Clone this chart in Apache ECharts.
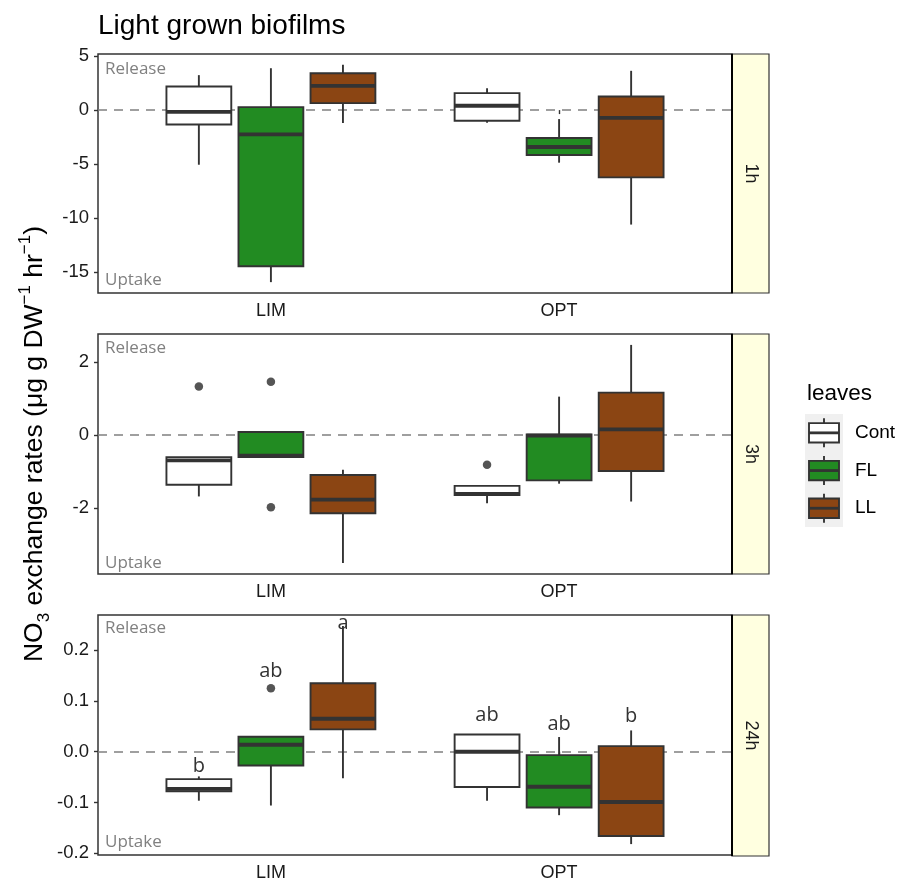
<!DOCTYPE html>
<html><head><meta charset="utf-8">
<script src="https://cdn.jsdelivr.net/npm/echarts@6.0.0/dist/echarts.min.js"></script>
<style>html,body{margin:0;padding:0;background:#fff}#c{width:911px;height:882px}</style>
</head><body><div id="c"></div>
<script>
// ---------------- data ----------------
const categories = ['LIM', 'OPT'];
const leaves = ['Cont', 'FL', 'LL'];
const panels = ['1h', '3h', '24h'];
// boxes ordered LIM-Cont, LIM-FL, LIM-LL, OPT-Cont, OPT-FL, OPT-LL
// each: [whiskerLow, q1, median, q3, whiskerHigh]
const box1h = [
  [-5.05, -1.33, -0.16, 2.18, 3.23],
  [-15.9, -14.43, -2.25, 0.27, 3.87],
  [-1.2, 0.64, 2.24, 3.41, 4.18],
  [-1.17, -0.99, 0.40, 1.57, 2.03],
  [-4.86, -4.15, -3.41, -2.58, -0.83],
  [-10.58, -6.22, -0.71, 1.25, 3.63]
];
const box3h = [
  [-1.68, -1.36, -0.69, -0.60, -0.60],
  [-0.60, -0.60, -0.56, 0.09, 0.09],
  [-3.51, -2.14, -1.77, -1.09, -0.95],
  [-1.87, -1.64, -1.61, -1.39, -1.39],
  [-1.33, -1.24, -0.01, 0.02, 1.06],
  [-1.82, -0.98, 0.16, 1.17, 2.48]
];
const box24h = [
  [-0.0965, -0.078, -0.073, -0.054, -0.0486],
  [-0.106, -0.027, 0.0138, 0.0295, 0.0295],
  [-0.052, 0.044, 0.065, 0.135, 0.248],
  [-0.0965, -0.0695, 0.0, 0.034, 0.034],
  [-0.125, -0.11, -0.069, -0.0066, 0.029],
  [-0.182, -0.166, -0.099, 0.011, 0.042]
];
// outliers: [categoryIndex, leafIndex, value]
const out1h = [];
const out3h = [[0, 0, 1.34], [0, 1, 1.47], [0, 1, -1.98], [1, 0, -0.81]];
const out24h = [[0, 1, 0.125]];
// significance letters (24h panel), same order as boxes
const letters24h = ['b', 'ab', 'a', 'ab', 'ab', 'b'];
const letterY24h = [-0.028, 0.159, 0.254, 0.072, 0.054, 0.069];
const yTicks1h = [-15, -10, -5, 0, 5];
const yTicks3h = [-2, 0, 2];
const yTicks24h = [-0.2, -0.1, 0.0, 0.1, 0.2];

// ---------------- layout / style ----------------
const fills = ['#FFFFFF', '#228B22', '#8B4513'];
const INK = '#333333';
const GL = 98, GW = 634, STRIPW = 37;
const grids = [{top: 54, height: 239}, {top: 334, height: 240}, {top: 615, height: 241}];
const xMin = 0.4, xMax = 2.6, dodge = 0.25, boxW = 0.225;
const boxSets = [box1h, box3h, box24h];
const outSets = [out1h, out3h, out24h];
const tickSets = [yTicks1h, yTicks3h, yTicks24h];
const decimals = [0, 0, 1];
const relOff = [[15.5, 13.3], [14.1, 11], [13.4, 14]];
const LW = 1.9, MLW = 3.8;

function xPos(ci, li) { return ci + 1 + (li - 1) * dodge; }

function boxRender(params, api) {
  const x = api.value(0), lo = api.value(1), q1 = api.value(2), md = api.value(3),
        q3 = api.value(4), hi = api.value(5), li = api.value(6);
  const c = v => api.coord([x, v]);
  const half = api.size([boxW, 0])[0] / 2;
  const cx = c(md)[0];
  const yLo = c(lo)[1], yQ1 = c(q1)[1], yMd = c(md)[1], yQ3 = c(q3)[1], yHi = c(hi)[1];
  return {type: 'group', children: [
    {type: 'line', shape: {x1: cx, y1: yHi, x2: cx, y2: yQ3}, style: {stroke: INK, lineWidth: LW}},
    {type: 'line', shape: {x1: cx, y1: yQ1, x2: cx, y2: yLo}, style: {stroke: INK, lineWidth: LW}},
    {type: 'rect', shape: {x: cx - half, y: yQ3, width: 2 * half, height: yQ1 - yQ3},
      style: {fill: fills[li], stroke: INK, lineWidth: LW}},
    {type: 'line', shape: {x1: cx - half, y1: yMd, x2: cx + half, y2: yMd}, style: {stroke: INK, lineWidth: MLW}}
  ]};
}
function letterRender(params, api) {
  const p = api.coord([api.value(0), api.value(1)]);
  return {type: 'text', x: p[0], y: p[1], style: {text: letters24h[params.dataIndex],
    fontFamily: 'Open Sans', fontSize: 20, fill: '#333', align: 'center', verticalAlign: 'middle'}};
}

const gridOpt = [], xAxes = [], yAxes = [], series = [], graphics = [];
panels.forEach((pn, i) => {
  const g = grids[i];
  gridOpt.push({left: GL, top: g.top, width: GW, height: g.height, show: true,
    borderColor: INK, borderWidth: 1.5, backgroundColor: '#fff'});
  const boxes = boxSets[i], outs = outSets[i];
  let vals = [];
  boxes.forEach(b => vals.push(b[0], b[4]));
  outs.forEach(o => vals.push(o[2]));
  const dmin = Math.min(...vals), dmax = Math.max(...vals), r = dmax - dmin;
  xAxes.push({type: 'value', gridIndex: i, min: xMin, max: xMax,
    splitLine: {show: false}, axisLine: {show: false},
    axisTick: {show: true, customValues: [1, 2], length: 4, lineStyle: {color: INK, width: 1.4}},
    axisLabel: {show: true, customValues: [1, 2], margin: 9, fontSize: 18, fontFamily: 'Liberation Sans',
      color: '#1a1a1a', formatter: v => categories[Math.round(v) - 1] || ''}});
  yAxes.push({type: 'value', gridIndex: i, min: dmin - 0.05 * r, max: dmax + 0.05 * r,
    splitLine: {show: false}, axisLine: {show: false},
    axisTick: {show: true, customValues: tickSets[i], length: 4, lineStyle: {color: INK, width: 1.4}},
    axisLabel: {show: true, customValues: tickSets[i], margin: 9, fontSize: 18.5, fontFamily: 'Liberation Sans',
      color: '#1a1a1a', formatter: v => Number(v).toFixed(decimals[i])}});
  const data = boxes.map((b, k) => {
    const ci = Math.floor(k / 3), li = k % 3;
    return [xPos(ci, li), b[0], b[1], b[2], b[3], b[4], li];
  });
  series.push({type: 'custom', name: 'boxes' + pn, xAxisIndex: i, yAxisIndex: i, z: 3,
    renderItem: boxRender, data: data, encode: {x: 0, y: [1, 2, 3, 4, 5]},
    markLine: {silent: true, z: 1, symbol: ['none', 'none'], label: {show: false},
      lineStyle: {type: [9, 7], color: '#808080', width: 1.6}, emphasis: {disabled: true},
      data: [{yAxis: 0}]}});
  if (outs.length) {
    series.push({type: 'scatter', xAxisIndex: i, yAxisIndex: i, z: 4, symbolSize: 8.5, silent: true,
      itemStyle: {color: '#2b2b2b'}, data: outs.map(o => [xPos(o[0], o[1]), o[2]])});
  }
  // strip
  graphics.push({type: 'rect', shape: {x: GL + GW, y: g.top, width: STRIPW, height: g.height},
    style: {fill: '#FFFFE0', stroke: INK, lineWidth: 1.2}, z: 10});
  graphics.push({type: 'line', shape: {x1: GL + GW, y1: g.top, x2: GL + GW, y2: g.top + g.height},
    style: {stroke: '#000', lineWidth: 2}, z: 11});
  graphics.push({type: 'text', x: GL + GW + STRIPW / 2, y: g.top + g.height / 2, rotation: -Math.PI / 2, z: 11,
    style: {text: pn, fontFamily: 'Liberation Sans', fontSize: 18, fill: '#1a1a1a', align: 'center', verticalAlign: 'middle'}});
  // Release / Uptake
  graphics.push({type: 'text', x: 105, y: g.top + relOff[i][0], z: 11,
    style: {text: 'Release', fontFamily: 'Open Sans', fontSize: 17, fill: '#808080', align: 'left', verticalAlign: 'middle'}});
  graphics.push({type: 'text', x: 105, y: g.top + g.height - relOff[i][1], z: 11,
    style: {text: 'Uptake', fontFamily: 'Open Sans', fontSize: 17, fill: '#808080', align: 'left', verticalAlign: 'middle'}});
});
series.push({type: 'custom', xAxisIndex: 2, yAxisIndex: 2, z: 5, silent: true, renderItem: letterRender,
  data: letterY24h.map((v, k) => [xPos(Math.floor(k / 3), k % 3), v]), encode: {x: 0, y: 1}});

// title
graphics.push({type: 'text', x: 98, y: 26, style: {text: 'Light grown biofilms', fontFamily: 'Liberation Sans',
  fontSize: 28, fill: '#000', align: 'left', verticalAlign: 'middle'}});
// y-axis title
graphics.push({type: 'text', x: 35, y: 444, rotation: Math.PI / 2, style: {
  text: '{m|NO}{s|3}{m| exchange rates (μg g DW}{p|−1}{m| hr}{p|−1}{m|)}',
  align: 'center', verticalAlign: 'middle', fill: '#000',
  rich: {
    m: {fontFamily: 'Liberation Sans', fontSize: 26.5, lineHeight: 36, fill: '#000'},
    s: {fontFamily: 'Liberation Sans', fontSize: 17, lineHeight: 17, verticalAlign: 'bottom', fill: '#000'},
    p: {fontFamily: 'Liberation Sans', fontSize: 17, lineHeight: 17, verticalAlign: 'top', fill: '#000'}
  }}});
// legend
const LX = 805, LY = 414, ROW = 37.7;
graphics.push({type: 'text', x: 807, y: 394, style: {text: 'leaves', fontFamily: 'Liberation Sans', fontSize: 22.5,
  fill: '#000', align: 'left', verticalAlign: 'middle'}});
graphics.push({type: 'rect', shape: {x: LX, y: LY, width: 38, height: ROW * 3}, style: {fill: '#F0F0F0'}});
leaves.forEach((lv, k) => {
  const cy = LY + ROW * k + ROW / 2, cx = LX + 19;
  graphics.push({type: 'line', shape: {x1: cx, y1: cy - 14.5, x2: cx, y2: cy + 14.5}, style: {stroke: INK, lineWidth: LW}});
  graphics.push({type: 'rect', shape: {x: cx - 15, y: cy - 9.7, width: 30, height: 19.4},
    style: {fill: fills[k], stroke: INK, lineWidth: LW}});
  graphics.push({type: 'line', shape: {x1: cx - 15, y1: cy, x2: cx + 15, y2: cy}, style: {stroke: INK, lineWidth: 2.8}});
  graphics.push({type: 'text', x: 855, y: cy, style: {text: lv, fontFamily: 'Liberation Sans', fontSize: 19,
    fill: '#000', align: 'left', verticalAlign: 'middle'}});
});

const chart = echarts.init(document.getElementById('c'), null, {renderer: 'canvas'});
chart.setOption({
  animation: false,
  backgroundColor: '#fff',
  grid: gridOpt, xAxis: xAxes, yAxis: yAxes, series: series,
  graphic: {elements: graphics}
});
</script></body></html>
